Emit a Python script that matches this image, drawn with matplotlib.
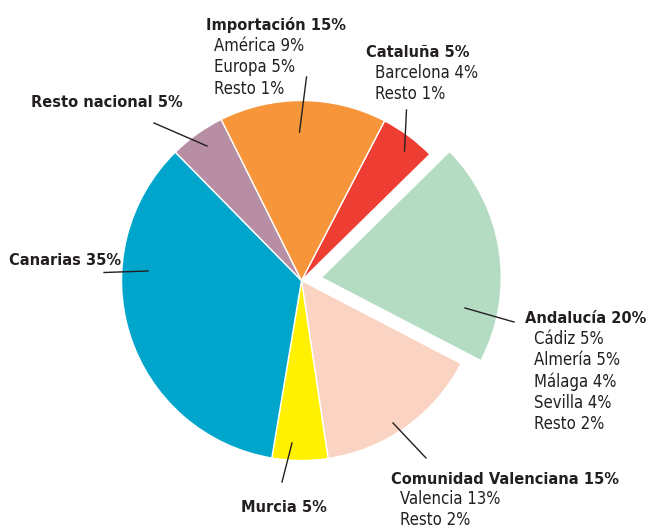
import matplotlib
matplotlib.use('Agg')
import matplotlib.pyplot as plt

# Canvas size in pixels
W, H = 652, 529

# Slices, clockwise starting at Cataluña
regions = ['Cataluña', 'Andalucía', 'Comunidad Valenciana', 'Murcia',
           'Canarias', 'Resto nacional', 'Importación']
shares = [5, 20, 15, 5, 35, 5, 15]
colors = ['#EE3E33', '#B4DCC3', '#FBD3C3', '#FFF100',
          '#00A5CB', '#B78EA4', '#F6953A']
explode = [0, 20, 0, 0, 0, 0, 0]

# Breakdown lines under each title
details = {
    'Cataluña': ['Barcelona 4%', 'Resto 1%'],
    'Andalucía': ['Cádiz 5%', 'Almería 5%', 'Málaga 4%', 'Sevilla 4%', 'Resto 2%'],
    'Comunidad Valenciana': ['Valencia 13%', 'Resto 2%'],
    'Murcia': [],
    'Canarias': [],
    'Resto nacional': [],
    'Importación': ['América 9%', 'Europa 5%', 'Resto 1%'],
}

# label layout (pixel coords, y from top): title x, baseline y, detail x, line step
label_pos = {
    'Cataluña': (366, 57, 375, 21.2),
    'Andalucía': (525, 323, 534, 21.2),
    'Comunidad Valenciana': (391, 484, 400, 20.4),
    'Murcia': (241, 512, 241, 21.2),
    'Canarias': (9, 265, 9, 21.2),
    'Resto nacional': (31, 107, 31, 21.2),
    'Importación': (206, 30, 214, 21.2),
}
# leader lines (x0, y0, x1, y1) in pixel coords, y from top
leaders = {
    'Cataluña': (406.5, 110, 404.5, 151),
    'Andalucía': (465, 308, 514, 322),
    'Comunidad Valenciana': (393, 423, 426, 458),
    'Murcia': (292, 443, 282, 482),
    'Canarias': (104, 272.5, 148, 271),
    'Resto nacional': (154, 123, 207, 146),
    'Importación': (306.5, 77, 299.5, 132),
}

TXT = '#231F20'
title_font = dict(family='DejaVu Sans', fontstretch='condensed', fontweight='bold', fontsize=11.7)
item_font = dict(family='DejaVu Sans', fontstretch='condensed', fontsize=12)

fig = plt.figure(figsize=(W / 100, H / 100), dpi=100)
ax = fig.add_axes([0, 0, 1, 1])

ax.pie(shares, colors=colors, explode=explode, startangle=62.5,
       counterclock=False, radius=180, center=(301.5, H - 280.5),
       wedgeprops=dict(edgecolor='white', linewidth=1.0))

for name, share in zip(regions, shares):
    tx, ty, dx, step = label_pos[name]
    ax.text(tx, H - ty, f'{name} {share}%', color=TXT, ha='left',
            va='baseline', **title_font)
    for i, line in enumerate(details[name]):
        ax.text(dx, H - (ty + step * (i + 1)), line, color=TXT,
                ha='left', va='baseline', **item_font)
    x0, y0, x1, y1 = leaders[name]
    ax.plot([x0, x1], [H - y0, H - y1], color=TXT, linewidth=1.0)

ax.set_xlim(0, W)
ax.set_ylim(0, H)
ax.set_aspect('equal')
ax.axis('off')

fig.savefig('out.png', dpi=100)
